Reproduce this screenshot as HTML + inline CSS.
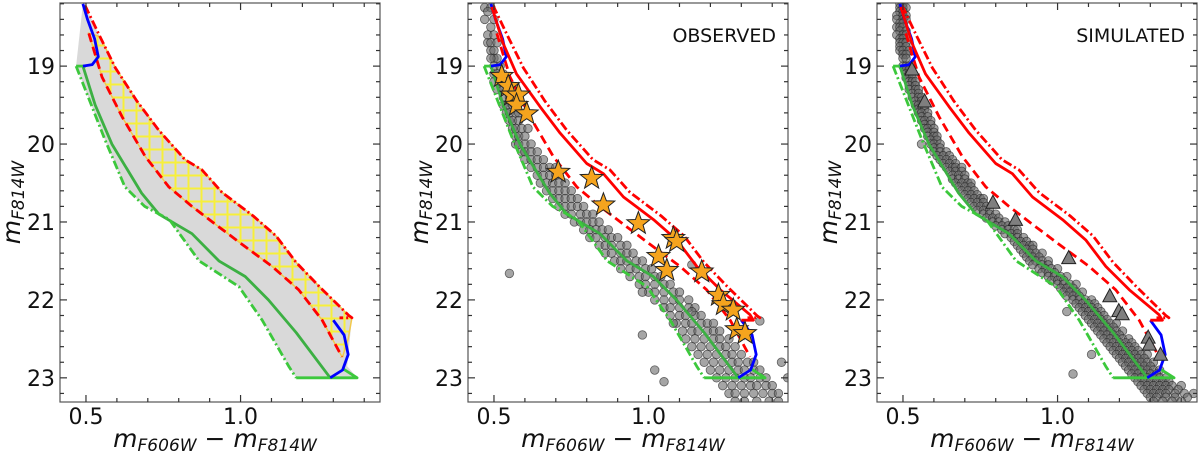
<!DOCTYPE html>
<html><head><meta charset="utf-8">
<style>
html,body{margin:0;padding:0;background:#fff;width:1200px;height:457px;overflow:hidden}
svg text{font-family:"DejaVu Sans","Liberation Sans",sans-serif;fill:#111}
</style></head>
<body>
<svg id="chart" width="1200" height="457" viewBox="0 0 1200 457" xmlns="http://www.w3.org/2000/svg">
<defs>
<pattern id="hatch" x="0" y="0" width="13" height="13" patternUnits="userSpaceOnUse">
<rect x="0" y="0" width="13" height="13" fill="#d9d9d9"/>
<rect x="5.5" y="0" width="2" height="13" fill="#f7ef3a"/>
<rect x="0" y="5.5" width="13" height="2" fill="#f7ef3a"/>
</pattern>
</defs>
</svg>
<script>
// ---- data ----
const xTicks=[0.5,1.0];
const xTickLabels=["0.5","1.0"];
const yTicks=[19,20,21,22,23];
const yTickLabels=["19","20","21","22","23"];
const fiducialGreen=[[0.49,19.0],[0.53,19.5],[0.584,20.0],[0.68,20.63],[0.736,20.9],[0.843,21.15],[0.93,21.5],[1.015,21.7],[1.09,22.0],[1.18,22.42],[1.29,23.0]];
const greenDashDot=[[0.468,19.0],[0.56,19.93],[0.626,20.55],[0.69,20.8],[0.77,20.97],[0.866,21.5],[0.995,21.83],[1.07,22.26],[1.157,22.86],[1.18,23.0]];
const greenBottom=[[1.18,23.0],[1.377,23.0],[1.33,22.88]];
const greenTop=[[0.468,19.0],[0.5,19.0]];
const redSolid=[[0.493,18.24],[0.53,18.71],[0.573,19.1],[0.649,19.52],[0.714,19.86],[0.8,20.25],[0.854,20.38],[0.919,20.68],[1.016,20.97],[1.091,21.23],[1.156,21.57],[1.232,21.87],[1.328,22.19],[1.339,22.26],[1.30,22.26]];
const redDashDot=[[0.497,18.22],[0.545,18.62],[0.595,19.02],[0.665,19.45],[0.735,19.82],[0.82,20.2],[0.875,20.33],[0.94,20.62],[1.04,20.92],[1.115,21.18],[1.18,21.52],[1.255,21.83],[1.35,22.2],[1.36,22.23],[1.32,22.23]];
const redDashed=[[0.509,18.58],[0.552,19.14],[0.617,19.65],[0.692,20.16],[0.768,20.55],[0.843,20.8],[0.929,21.06],[1.016,21.32],[1.102,21.57],[1.188,21.87],[1.264,22.26],[1.328,22.73]];
const blueTop=[[0.49,18.2],[0.505,18.4],[0.528,18.65],[0.54,18.88],[0.52,18.98],[0.49,19.0]];
const blueBottom=[[1.30,22.26],[1.335,22.45],[1.348,22.7],[1.33,22.9],[1.29,23.0]];
const starColor=[0.525,0.546,0.557,0.579,0.573,0.606,0.708,0.816,0.854,0.967,1.08,1.091,1.032,1.059,1.172,1.226,1.242,1.274,1.285,1.312];
const starMag=[19.13,19.26,19.37,19.37,19.5,19.61,20.36,20.44,20.78,21.02,21.21,21.25,21.44,21.62,21.64,21.94,22.06,22.13,22.38,22.43];
const triColor=[0.529,0.570,0.791,0.864,1.036,1.169,1.198,1.209,1.293,1.297,1.333];
const triMag=[19.05,19.46,20.76,20.98,21.47,21.96,22.15,22.19,22.49,22.58,22.71];
const obsRows=[[18.25,[0.47,0.49]],[18.3,[0.48]],[18.4,[0.47,0.5]],[18.5,[0.49]],[18.6,[0.48,0.5]],[18.7,[0.48,0.49,0.51]],[18.8,[0.49,0.5]],[18.9,[0.5,0.51,0.49]],[19.0,[0.5,0.52]],[19.1,[0.5,0.51,0.53]],[19.2,[0.52,0.5,0.54]],[19.3,[0.51,0.53,0.55]],[19.4,[0.53,0.55,0.57]],[19.5,[0.53,0.54,0.56]],[19.6,[0.54,0.55,0.57,0.58]],[19.7,[0.55,0.56,0.58]],[19.8,[0.56,0.57,0.59,0.61]],[19.9,[0.57,0.58,0.6]],[20.0,[0.57,0.58,0.6,0.62]],[20.1,[0.59,0.6,0.62,0.64]],[20.2,[0.6,0.62,0.64,0.66]],[20.3,[0.62,0.64,0.66,0.68,0.7]],[20.4,[0.64,0.66,0.68,0.7]],[20.5,[0.65,0.67,0.69,0.71,0.73]],[20.6,[0.67,0.69,0.71,0.73,0.75]],[20.7,[0.69,0.71,0.73,0.75,0.77]],[20.8,[0.71,0.73,0.75,0.77,0.79]],[20.9,[0.73,0.75,0.78,0.8,0.82]],[21.0,[0.76,0.78,0.8,0.82,0.84]],[21.1,[0.79,0.81,0.83,0.85,0.87]],[21.2,[0.81,0.83,0.86,0.88,0.9]],[21.3,[0.84,0.86,0.88,0.91,0.93]],[21.4,[0.86,0.88,0.91,0.93,0.95]],[21.5,[0.89,0.91,0.93,0.96,0.98]],[21.6,[0.91,0.94,0.96,0.99,1.01]],[21.7,[0.94,0.97,0.99,1.02,1.04]],[21.8,[0.97,0.99,1.02,1.05,1.07]],[21.9,[1.0,1.02,1.05,1.08,1.1]],[22.0,[1.02,1.05,1.08,1.1,1.13]],[22.1,[1.05,1.07,1.1,1.13,1.15]],[22.2,[1.07,1.1,1.12,1.15,1.17]],[22.3,[1.09,1.12,1.14,1.17,1.19,1.21]],[22.4,[1.11,1.14,1.16,1.19,1.21,1.23]],[22.5,[1.12,1.15,1.18,1.21,1.23,1.26]],[22.6,[1.14,1.17,1.2,1.23,1.25,1.28]],[22.7,[1.16,1.19,1.22,1.25,1.27,1.3]],[22.8,[1.18,1.21,1.24,1.27,1.29,1.32,1.34]],[22.9,[1.2,1.23,1.26,1.29,1.31,1.34,1.36]],[23.0,[1.22,1.25,1.28,1.31,1.33,1.36,1.38]],[23.1,[1.24,1.27,1.3,1.33,1.35,1.38,1.4]],[23.2,[1.26,1.28,1.31,1.34,1.37,1.4,1.42]],[23.3,[1.28,1.31,1.35,1.39,1.42]],[21.66,[0.55]],[21.55,[1.14]],[21.9,[0.98]],[22.45,[0.98]],[22.3,[1.08]],[22.9,[1.02]],[23.05,[1.05]],[22.8,[1.43]],[23.0,[1.45]],[22.27,[1.36]],[22.15,[1.14]]];
const simRows=[[18.2,[0.49,0.5]],[18.25,[0.49,0.5,0.51]],[18.3,[0.49,0.5]],[18.35,[0.48,0.5,0.51]],[18.4,[0.48,0.5,0.51]],[18.45,[0.49,0.5]],[18.5,[0.48,0.49,0.5]],[18.55,[0.49,0.51]],[18.6,[0.48,0.5,0.51]],[18.65,[0.49,0.5]],[18.7,[0.49,0.5,0.51]],[18.75,[0.49,0.51]],[18.8,[0.49,0.5,0.52]],[18.85,[0.5,0.51]],[18.9,[0.5,0.51]],[19.0,[0.5,0.51,0.52]],[19.05,[0.51,0.52]],[19.1,[0.51,0.52,0.53]],[19.15,[0.51,0.53]],[19.2,[0.52,0.53,0.54]],[19.25,[0.52,0.54]],[19.3,[0.52,0.54,0.55]],[19.35,[0.53,0.55]],[19.4,[0.53,0.55,0.56]],[19.45,[0.54,0.56]],[19.5,[0.54,0.55,0.57]],[19.55,[0.55,0.57]],[19.6,[0.55,0.56,0.58]],[19.65,[0.56,0.58]],[19.7,[0.56,0.57,0.59]],[19.75,[0.57,0.59]],[19.8,[0.57,0.58,0.6]],[19.85,[0.58,0.6]],[19.9,[0.58,0.6,0.61]],[19.95,[0.59,0.61]],[20.0,[0.59,0.6,0.62]],[20.05,[0.6,0.62]],[20.1,[0.6,0.62,0.64]],[20.15,[0.61,0.63,0.65]],[20.2,[0.62,0.64,0.66]],[20.25,[0.63,0.65,0.67]],[20.3,[0.64,0.66,0.67,0.69]],[20.35,[0.65,0.67,0.69]],[20.4,[0.66,0.68,0.7]],[20.45,[0.66,0.68,0.7]],[20.5,[0.67,0.69,0.71,0.72]],[20.55,[0.68,0.7,0.72]],[20.6,[0.69,0.71,0.73]],[20.65,[0.7,0.72,0.74]],[20.7,[0.71,0.73,0.75,0.76]],[20.75,[0.72,0.74,0.76]],[20.8,[0.73,0.75,0.77]],[20.85,[0.74,0.76,0.78]],[20.9,[0.76,0.78,0.8]],[20.95,[0.77,0.79,0.81]],[21.0,[0.79,0.81,0.83]],[21.05,[0.8,0.82,0.84]],[21.1,[0.82,0.84,0.86,0.87]],[21.15,[0.83,0.85,0.87]],[21.2,[0.85,0.87,0.89]],[21.25,[0.86,0.88,0.9]],[21.3,[0.87,0.89,0.91,0.92]],[21.35,[0.88,0.9,0.92]],[21.4,[0.89,0.91,0.93,0.95]],[21.45,[0.9,0.92,0.94]],[21.5,[0.91,0.93,0.95,0.97]],[21.55,[0.92,0.95,0.97]],[21.6,[0.94,0.96,0.98,1.0]],[21.65,[0.95,0.97,0.99]],[21.7,[0.97,0.99,1.01,1.03]],[21.75,[0.98,1.0,1.02]],[21.8,[1.0,1.02,1.04,1.06]],[21.85,[1.01,1.03,1.05]],[21.9,[1.02,1.04,1.06,1.08]],[21.95,[1.03,1.05,1.07]],[22.0,[1.05,1.07,1.09,1.11]],[22.05,[1.06,1.08,1.1,1.12]],[22.1,[1.07,1.09,1.11,1.13]],[22.15,[1.08,1.1,1.12,1.14]],[22.2,[1.09,1.11,1.13,1.15]],[22.25,[1.1,1.12,1.14,1.16]],[22.3,[1.11,1.13,1.15,1.17,1.19]],[22.35,[1.12,1.14,1.16,1.18]],[22.4,[1.13,1.15,1.17,1.19,1.21]],[22.45,[1.14,1.16,1.18,1.2]],[22.5,[1.15,1.17,1.19,1.21,1.23]],[22.55,[1.16,1.18,1.2,1.22,1.24]],[22.6,[1.17,1.19,1.21,1.23,1.25]],[22.65,[1.18,1.2,1.22,1.24,1.26]],[22.7,[1.19,1.21,1.23,1.25,1.27,1.29]],[22.75,[1.2,1.22,1.24,1.26,1.28]],[22.8,[1.21,1.23,1.25,1.27,1.29,1.31]],[22.85,[1.22,1.24,1.26,1.28,1.3]],[22.9,[1.23,1.25,1.27,1.29,1.31,1.33]],[22.95,[1.24,1.26,1.28,1.3,1.32]],[23.0,[1.25,1.27,1.29,1.31,1.33,1.35]],[23.05,[1.26,1.28,1.3,1.32,1.34,1.36]],[23.1,[1.27,1.29,1.31,1.33,1.35,1.37,1.4]],[23.15,[1.28,1.3,1.32,1.34,1.36,1.39]],[23.2,[1.29,1.31,1.33,1.35,1.38,1.41,1.44]],[23.25,[1.3,1.32,1.35,1.38,1.42]],[23.3,[1.31,1.34,1.37,1.4]],[20.0,[0.56]],[22.15,[1.03]],[22.95,[1.05]],[22.7,[1.11]]];

// ---- geometry ----
const NS="http://www.w3.org/2000/svg";
const svg=document.getElementById('chart');
const panelLeft=[60,468,877];
const TOP=3,BOTTOM=402,W=320;
const XMIN=0.416,XMAX=1.451,YMIN=18.19,YMAX=23.31;
function mk(tag,attrs,parent){const e=document.createElementNS(NS,tag);for(const k in attrs)e.setAttribute(k,attrs[k]);(parent||svg).appendChild(e);return e;}
function sx(p,v){return panelLeft[p]+(v-XMIN)/(XMAX-XMIN)*W;}
function sy(v){return TOP+(v-YMIN)/(YMAX-YMIN)*(BOTTOM-TOP);}
function pts(p,arr){return arr.map(d=>sx(p,d[0]).toFixed(1)+','+sy(d[1]).toFixed(1)).join(' ');}

for(let p=0;p<3;p++){
  const g=mk('g',{});
  
  
  const cp=mk('clipPath',{id:'clip'+p},g);
  mk('rect',{x:panelLeft[p],y:TOP,width:W,height:BOTTOM-TOP},cp);
  const plot=mk('g',{'clip-path':'url(#clip'+p+')'},g);
  
  
  if(p===0){
    const gray=mk('polygon',{points:pts(0,greenDashDot.concat([[1.377,23.0],[1.345,22.85]]).concat(redDashDot.slice(0,-1).reverse()).concat(blueTop.slice().reverse()).concat([[0.468,19.0]])),fill:'#d9d9d9',stroke:'none'},plot);
    
    
    const yel=mk('polygon',{points:pts(0,redDashDot.slice(1,-1).concat([[1.348,22.5],[1.33,22.73]]).concat(redDashed.slice().reverse())),fill:'url(#hatch)',stroke:'#f2c94c','stroke-width':1.5},plot);
    
    
  } else {
    const rows=p===1?obsRows:simRows;
    rows.forEach(r=>r[1].forEach(c=>{
      const dot=mk('circle',{cx:sx(p,c),cy:sy(r[0]),r:4.3,fill:'rgba(105,105,105,0.6)',stroke:'rgba(35,35,35,0.65)','stroke-width':0.8},plot);
      
      
    }));
  }
  const lines=[
    [fiducialGreen,'#3cb043','none','green-fiducial'],
    [greenDashDot,'#3cc83c','9,3,2,3','green-bound'],
    [greenBottom,'#3cc83c','none','green-bottom'],
    [greenTop,'#3cc83c','none','green-top'],
    [redDashed,'#f00','9,5','red-dashed'],
    [redDashDot,'#f00','9,3,2,3','red-dashdot'],
    [blueTop,'#0000ff','none','blue-top'],
    [blueBottom,'#0000ff','none','blue-bottom']
  ];
  if(p>0)lines.push([redSolid,'#f00','none','red-solid']);
  lines.forEach(L=>{
    const pl=mk('polyline',{points:pts(p,L[0]),fill:'none',stroke:L[1],'stroke-width':2.8,'stroke-dasharray':L[2],'stroke-linejoin':'round'},plot);
    
    
  });
  if(p===1){
    starColor.forEach((c,i)=>{
      const cx=sx(1,c),cy=sy(starMag[i]),R=12,r=5;let d='';
      for(let k=0;k<10;k++){const a=-Math.PI/2+k*Math.PI/5,rr=k%2?r:R;d+=(k?'L':'M')+(cx+rr*Math.cos(a)).toFixed(1)+' '+(cy+rr*Math.sin(a)).toFixed(1);}
      const s=mk('path',{d:d+'Z',fill:'#f5a41e',stroke:'#222','stroke-width':1},plot);
      
      
    });
  }
  if(p===2){
    triColor.forEach((c,i)=>{
      const cx=sx(2,c),cy=sy(triMag[i]);
      const t=mk('polygon',{points:`${cx},${cy-8} ${cx-7},${cy+5} ${cx+7},${cy+5}`,fill:'#7f7f7f',stroke:'#222','stroke-width':1},plot);
      
      
    });
  }
  const frame=mk('rect',{x:panelLeft[p],y:TOP,width:W,height:BOTTOM-TOP,fill:'none',stroke:'#555','stroke-width':1.2},g);
  
  
  for(let v=0.5;v<=1.45;v+=0.1){
    const x=sx(p,v),maj=Math.abs(v-0.5)<1e-6||Math.abs(v-1.0)<1e-6,L=maj?7:4;
    mk('line',{x1:x,y1:BOTTOM,x2:x,y2:BOTTOM-L,stroke:'#333','stroke-width':1.2},g);
    mk('line',{x1:x,y1:TOP,x2:x,y2:TOP+L,stroke:'#333','stroke-width':1.2},g);
  }
  for(let v=18.2;v<=23.3;v+=0.2){
    const y=sy(v),maj=Math.abs(v-Math.round(v))<1e-6,L=maj?7:4;
    mk('line',{x1:panelLeft[p],y1:y,x2:panelLeft[p]+L,y2:y,stroke:'#333','stroke-width':1.2},g);
    mk('line',{x1:panelLeft[p]+W,y1:y,x2:panelLeft[p]+W-L,y2:y,stroke:'#333','stroke-width':1.2},g);
  }
  xTicks.forEach((v,i)=>{const t=mk('text',{x:sx(p,v),y:424,'text-anchor':'middle','font-size':22},g);t.textContent=xTickLabels[i];
    });
  yTicks.forEach((v,i)=>{const t=mk('text',{x:panelLeft[p]-5,y:sy(v)+8,'text-anchor':'end','font-size':22},g);t.textContent=yTickLabels[i];
    });
  const xl=mk('text',{x:panelLeft[p]+W/2-5,y:447,'text-anchor':'middle','font-size':25,'font-style':'italic'},g);
  xl.innerHTML='m<tspan font-size="17" dy="4">F606W</tspan><tspan dy="-4" font-style="normal"> − </tspan>m<tspan font-size="17" dy="4">F814W</tspan>';
  
  const yl=mk('text',{x:0,y:0,'text-anchor':'middle','font-size':25,'font-style':'italic',transform:`translate(${panelLeft[p]-40},${(TOP+BOTTOM)/2}) rotate(-90)`},g);
  yl.innerHTML='m<tspan font-size="17" dy="4">F814W</tspan>';
  
  if(p>0){
    const lab=mk('text',{x:panelLeft[p]+W-12,y:42,'text-anchor':'end','font-size':19},g);
    lab.textContent=p===1?'OBSERVED':'SIMULATED';
    
  }
}
</script>
</body></html>
